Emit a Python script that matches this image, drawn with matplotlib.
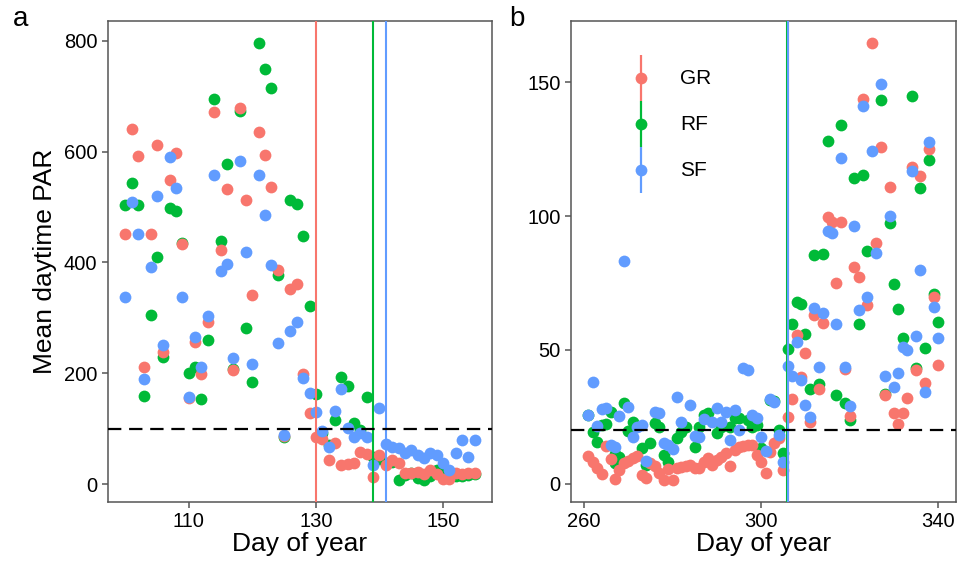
import numpy as np
import matplotlib
matplotlib.use("Agg")
import matplotlib.pyplot as plt

plt.rcParams["font.family"] = ["Liberation Sans", "DejaVu Sans"]

# colours per site
sites = ["GR", "RF", "SF"]
colors = {"GR": "#F8766D", "RF": "#00BA38", "SF": "#619CFF"}

# ---- spring (panel a) ----
days_a = list(range(100, 156))
par_a_gr = [451, 640, 592, 212, 451, 611, 239, 549, 598, 433, 155, 256, 199, 293, 671, 423,
            533, 206, 679, 513, 342, 635, 594, 536, 386, 87, 352, 362, 198, 129, 86, 81,
            43, 74, 35, 37, 38, 59, 55, 14, 53, 35, 44, 38, 20, 21, 23, 18, 26, 18, 10, 10,
            20, 18, 20, 20]
par_a_rf = [504, 544, 504, 160, 306, 409, 230, 498, 493, 435, 200, 211, 153, 260, 695, 438,
            577, 208, 673, 282, 185, 796, 748, 715, 377, 85, 513, 506, 447, 321, 163, 92,
            70, 116, 194, 177, 110, 97, 157, 50, 45, 38, 40, 8, 17, 20, 12, 8, 15, 25, 20, 17,
            15, 15, 17, 18]
par_a_sf = [338, 509, 452, 190, 392, 520, 252, 590, 534, 338, 157, 266, 211, 303, 557, 385,
            397, 228, 582, 418, 217, 557, 485, 396, 255, 89, 277, 293, 191, 164, 131, 96,
            68, 132, 171, 101, 86, 93, 86, 35, 138, 73, 68, 65, 56, 61, 53, 47, 56, 53, 38, 26,
            57, 80, 50, 79]
leafout_a = {"GR": 130, "RF": 139, "SF": 141}
threshold_a = 100

# ---- autumn (panel b) ----
days_b_gr = list(range(261, 341))
par_b_gr = [10.4, 8.3, 5.8, 3.7, 14.2, 9.2, 1.8, 5.2, 7.7, 8.5, 9.6, 10.4, 3.4, 2.1, 7.7, 6.5,
            4.0, 1.5, 5.5, 1.5, 5.8, 6.2, 6.5, 7.1, 6.0, 5.8, 8.3, 9.6, 7.1, 9.0, 10.2, 11.4,
            6.5, 12.7, 13.9, 14.2, 14.6, 14.6, 10.8, 8.3, 4.0, 12.0, 15.2, 17.1, 5.2, 24.9,
            31.7, 55.6, 39.8, 48.8, 23.2, 63.0, 35.3, 60.0, 99.5, 97.9, 74.9, 97.9, 43.0, 25.4,
            80.9, 77.1, 143.9, 66.8, 164.7, 89.8, 125.9, 33.2, 110.7, 26.6, 22.4, 26.6, 32.0,
            118.4, 42.5, 114.9, 37.6, 124.9, 69.7, 44.4]
days_b_rf = [261, 262, 263, 264, 265, 266, 267, 267, 268, 269, 270, 271, 273, 274, 275, 276,
             277, 278, 279, 281, 282, 283, 285, 286, 287, 288, 290, 291, 293, 294, 295, 297,
             298, 299, 300, 302, 303, 304, 305, 306, 307, 308, 309, 310, 311, 312, 313, 314,
             315, 317, 318, 319, 320, 321, 322, 323, 324, 327, 328, 329, 330, 331, 332, 334,
             335, 336, 337, 338, 339, 340]
par_b_rf = [25.7, 19.5, 15.8, 22.0, 22.4, 27.0, 11.2, 7.7, 10.2, 30.3, 19.9, 23.2, 13.3, 7.1,
            15.2, 22.9, 21.4, 10.8, 8.3, 17.0, 19.5, 21.4, 13.9, 21.4, 25.7, 26.4, 18.9, 21.4,
            21.4, 24.5, 24.5, 23.9, 21.4, 22.0, 13.3, 31.3, 31.1, 20.1, 11.4, 50.3, 59.7, 68.0,
            67.2, 55.9, 35.3, 85.4, 37.3, 86.0, 127.9, 33.2, 134.0, 30.1, 23.9, 114.1, 59.7,
            115.3, 86.9, 143.5, 33.5, 97.3, 74.5, 65.4, 54.4, 145.0, 43.2, 110.6, 50.6, 121.1,
            70.9, 60.3]
days_b_sf = [261, 262, 263, 264, 265, 266, 267, 268, 269, 270, 271, 272, 273, 274, 276, 277,
             278, 279, 280, 281, 282, 284, 285, 286, 287, 289, 290, 291, 292, 293, 294, 295,
             296, 297, 298, 299, 300, 301, 302, 303, 304, 305, 306, 307, 308, 309, 310, 311,
             312, 313, 314, 315, 316, 317, 318, 319, 320, 321, 322, 323, 324, 325, 326, 327,
             328, 329, 330, 331, 332, 333, 334, 335, 336, 337, 338, 339, 340]
par_b_sf = [25.7, 37.9, 21.6, 28.0, 28.2, 14.6, 13.9, 25.4, 83.2, 28.6, 17.6, 21.4, 22.0, 8.6,
            27.0, 26.4, 15.4, 14.6, 12.9, 32.6, 23.2, 29.5, 17.9, 17.6, 24.1, 23.2, 28.2, 23.2,
            27.0, 16.2, 27.6, 20.1, 43.2, 42.5, 25.7, 24.5, 17.6, 12.1, 31.6, 30.7, 18.3, 8.0,
            44.0, 40.3, 53.1, 38.8, 29.5, 25.1, 65.6, 43.5, 63.7, 94.5, 93.5, 59.7, 121.5, 43.5,
            29.1, 96.3, 64.9, 141.0, 69.7, 124.3, 86.1, 149.5, 40.3, 100.1, 36.3, 41.5, 51.2,
            50.0, 116.9, 55.2, 79.9, 34.4, 127.5, 66.2, 54.6]
leafdrop_b = {"GR": 306, "RF": 305.8, "SF": 306.1}
threshold_b = 20

spine_col = "#555555"


def expand(lo, hi, frac=0.05):
    pad = (hi - lo) * frac
    return lo - pad, hi + pad


def style_axes(ax):
    for s in ax.spines.values():
        s.set_color(spine_col)
        s.set_linewidth(1.1)
    ax.tick_params(direction="out", length=4.5, width=1.1, color=spine_col,
                   labelsize=14.5, labelcolor="black", pad=3)
    ax.set_xlabel("Day of year", fontsize=19, labelpad=1)


def draw_panel(ax, series, lines, thresh):
    for site in ["RF", "GR", "SF"]:
        d, v = series[site]
        ax.scatter(d, v, s=72, color=colors[site], linewidths=0, zorder=2)
    for site in sites:
        ax.axvline(lines[site], color=colors[site], lw=1.5, zorder=3)
    ax.axhline(thresh, color="black", lw=1.6, dashes=(6, 3.5), zorder=4)
    all_d = np.concatenate([np.asarray(series[s][0], float) for s in sites])
    all_v = np.concatenate([np.asarray(series[s][1], float) for s in sites])
    ax.set_xlim(*expand(all_d.min(), all_d.max()))
    ax.set_ylim(*expand(all_v.min(), all_v.max()))


fig = plt.figure(figsize=(9.6, 5.71), dpi=100)
ax_a = fig.add_axes([0.1122, 0.1214, 0.4006, 0.8419])
ax_b = fig.add_axes([0.5948, 0.1214, 0.4007, 0.8419])

draw_panel(ax_a, {"GR": (days_a, par_a_gr), "RF": (days_a, par_a_rf), "SF": (days_a, par_a_sf)},
           leafout_a, threshold_a)
draw_panel(ax_b, {"GR": (days_b_gr, par_b_gr), "RF": (days_b_rf, par_b_rf),
                  "SF": (days_b_sf, par_b_sf)}, leafdrop_b, threshold_b)

ax_a.set_xticks([110, 130, 150])
ax_a.set_yticks([0, 200, 400, 600, 800])
ax_b.set_xticks([260, 300, 340])
ax_b.set_yticks([0, 50, 100, 150])
style_axes(ax_a)
style_axes(ax_b)
ax_a.set_ylabel("Mean daytime PAR", fontsize=19, labelpad=5)

# legend: vertical line keys with a point, like ggplot
key_x = 0.182
key_top = 0.929
key_h = (0.929 - 0.642) / 3
for i, site in enumerate(sites):
    y0 = key_top - (i + 1) * key_h
    ax_b.plot([key_x, key_x], [y0, y0 + key_h], color=colors[site], lw=1.6,
              transform=ax_b.transAxes, zorder=5, solid_capstyle="butt")
    ax_b.scatter([key_x], [y0 + key_h / 2], s=72, color=colors[site], linewidths=0,
                 transform=ax_b.transAxes, zorder=6)
    ax_b.text(0.283, y0 + key_h / 2, site, fontsize=15, va="center", ha="left",
              transform=ax_b.transAxes)

fig.text(0.013, 0.966, "a", fontsize=20, va="center", ha="left")
fig.text(0.530, 0.966, "b", fontsize=20, va="center", ha="left")

fig.savefig("out.png", dpi=100)
